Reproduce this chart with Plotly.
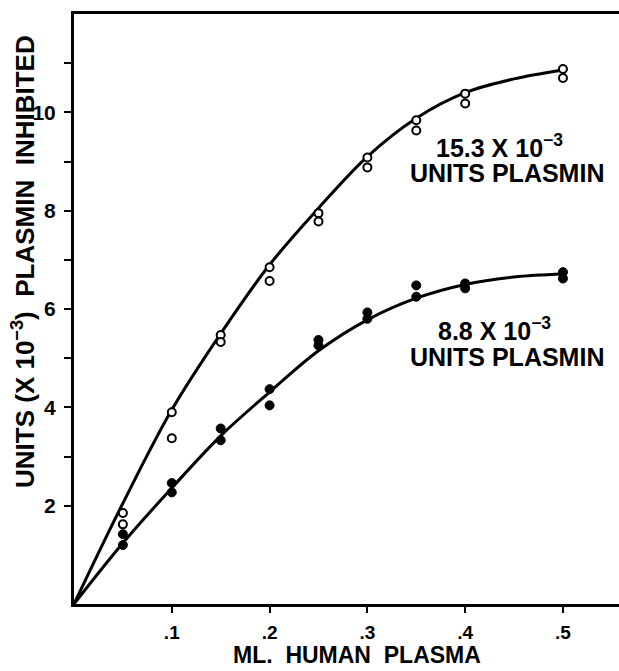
import plotly.graph_objects as go

# ---- data ----
open_x = [0.05, 0.05, 0.1, 0.1, 0.15, 0.15, 0.2, 0.2, 0.25, 0.25, 0.3, 0.3, 0.35, 0.35, 0.4, 0.4, 0.5, 0.5]
open_y = [1.85, 1.62, 3.9, 3.37, 5.47, 5.33, 6.85, 6.57, 7.95, 7.78, 9.08, 8.88, 9.84, 9.63, 10.38, 10.18, 10.88, 10.7]

filled_x = [0.05, 0.05, 0.1, 0.1, 0.15, 0.15, 0.2, 0.2, 0.25, 0.25, 0.3, 0.3, 0.35, 0.35, 0.4, 0.4, 0.5, 0.5]
filled_y = [1.42, 1.2, 2.46, 2.27, 3.57, 3.33, 4.37, 4.04, 5.37, 5.26, 5.93, 5.8, 6.48, 6.25, 6.52, 6.42, 6.75, 6.62]

curve_x = [0, 0.05, 0.1, 0.15, 0.2, 0.25, 0.3, 0.35, 0.4, 0.45, 0.5]
upper_curve = [0, 2.05, 3.95, 5.5, 6.9, 8.05, 9.1, 9.88, 10.4, 10.68, 10.86]
lower_curve = [0, 1.24, 2.36, 3.42, 4.31, 5.15, 5.78, 6.22, 6.5, 6.65, 6.71]

x_ticks = [0.1, 0.2, 0.3, 0.4, 0.5]
x_tick_labels = [".1", ".2", ".3", ".4", ".5"]
y_ticks = [2, 4, 6, 8, 10]
y_tick_labels = ["2", "4", "6", "8", "10"]
y_minor_ticks = [3, 5, 7, 9, 11]

FONT = "Liberation Sans"

fig = go.Figure()
fig.add_trace(go.Scatter(x=curve_x, y=upper_curve, mode="lines",
                         line=dict(color="black", width=3, shape="spline", smoothing=1.0),
                         hoverinfo="skip"))
fig.add_trace(go.Scatter(x=curve_x, y=lower_curve, mode="lines",
                         line=dict(color="black", width=3, shape="spline", smoothing=1.0),
                         hoverinfo="skip"))
fig.add_trace(go.Scatter(x=open_x, y=open_y, mode="markers",
                         marker=dict(symbol="circle", size=8, color="white",
                                     line=dict(color="black", width=2))))
fig.add_trace(go.Scatter(x=filled_x, y=filled_y, mode="markers",
                         marker=dict(symbol="circle", size=9, color="black",
                                     line=dict(color="black", width=1))))

ann_font = dict(family=FONT, size=25, color="black", weight="bold")
annotations = [
    dict(x=0.4356, y=9.31, text="15.3 X 10<sup>−3</sup>", showarrow=False, xanchor="center",
         yanchor="middle", font=ann_font),
    dict(x=0.443, y=8.77, text="UNITS PLASMIN", showarrow=False, xanchor="center",
         yanchor="middle", font=ann_font),
    dict(x=0.4295, y=5.59, text="8.8 X 10<sup>−3</sup>", showarrow=False, xanchor="center",
         yanchor="middle", font=ann_font),
    dict(x=0.443, y=5.02, text="UNITS PLASMIN", showarrow=False, xanchor="center",
         yanchor="middle", font=ann_font),
    dict(xref="paper", yref="paper", x=-0.0917, y=0.5797,
         text="UNITS (X 10<sup>−3</sup>)  PLASMIN  INHIBITED", textangle=-90,
         showarrow=False, xanchor="center", yanchor="middle",
         font=dict(family=FONT, size=26, color="black", weight="bold")),
    dict(xref="paper", yref="paper", x=0.519, y=-0.1125,
         text="ML.  HUMAN  PLASMA", showarrow=False, xanchor="center", yanchor="bottom",
         font=dict(family=FONT, size=23, color="black", weight="bold")),
]

fig.update_layout(
    width=619, height=671,
    margin=dict(l=74, r=0, t=14, b=67),
    paper_bgcolor="white", plot_bgcolor="white",
    showlegend=False,
    annotations=annotations,
    xaxis=dict(range=[0, 0.5573], showgrid=False, zeroline=False,
               showline=True, linecolor="black", linewidth=3, mirror=True,
               ticks="outside", ticklen=6, tickwidth=2, tickcolor="black",
               tickvals=x_ticks, ticktext=x_tick_labels, ticklabelstandoff=3,
               tickfont=dict(family=FONT, size=19, color="black", weight="bold")),
    yaxis=dict(range=[0, 12], showgrid=False, zeroline=False,
               showline=True, linecolor="black", linewidth=3, mirror=False,
               ticks="outside", ticklen=7, tickwidth=2, tickcolor="black",
               tickvals=y_ticks, ticktext=y_tick_labels, ticklabelstandoff=4,
               tickfont=dict(family=FONT, size=21, color="black", weight="bold"),
               minor=dict(tickvals=y_minor_ticks, ticks="outside", ticklen=7,
                          tickwidth=2, tickcolor="black", showgrid=False)),
)

fig.write_html("out.html")
